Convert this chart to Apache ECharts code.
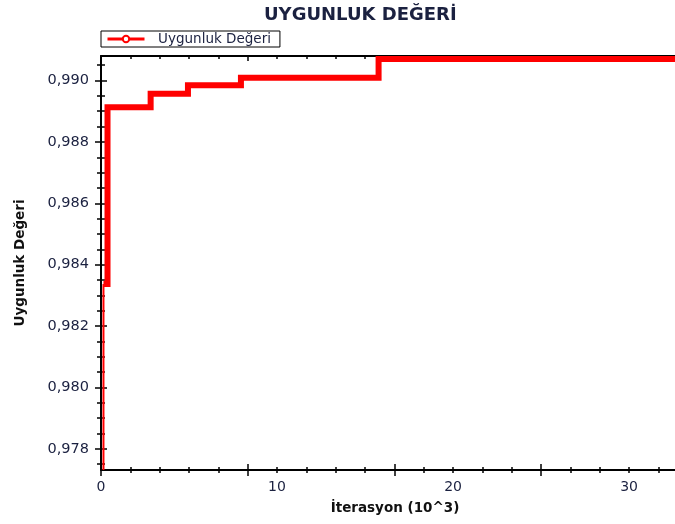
<!DOCTYPE html>
<html>
<head>
<meta charset="utf-8">
<script src="https://cdn.jsdelivr.net/npm/echarts@6/dist/echarts.min.js"></script>
<style>html,body{margin:0;padding:0;background:#fff}#c{width:675px;height:524px}</style>
</head>
<body>
<div id="c"></div>
<script>
// Step change points (iteration x10^3) and fitness values
const stepIterations = [0.14, 0.37, 2.82, 4.94, 7.95, 15.77, 32.61];
const stepValues     = [0.98337, 0.98913, 0.98957, 0.98985, 0.99009, 0.99070, 0.99070];
// Initial thin rise at the very start
const startIterations = [0.14, 0.14];
const startValues     = [0.97731, 0.98337];

const xLabelValues = [0, 10, 20, 30];
const yLabelValues = [0.978, 0.980, 0.982, 0.984, 0.986, 0.988, 0.990];

const X_MIN = 0, X_MAX = 32.61;
const Y_MIN = 0.97731, Y_MAX = 0.99080;

const xMajorTicks = [], xMinorTicks = [];
for (let i = 0; i * 25 / 3 <= X_MAX; i++) xMajorTicks.push(i * 25 / 3);
for (let i = 0; i * 5 / 3 <= X_MAX; i++) if (i % 5) xMinorTicks.push(i * 5 / 3);
const yMajorTicks = yLabelValues.slice();
const yMinorTicks = [];
for (let i = 1; 0.9775 + (i - 1) * 0.0005 <= Y_MAX; i++) {
  const v = +(0.9775 + (i - 1) * 0.0005).toFixed(4);
  if (yMajorTicks.indexOf(v) < 0) yMinorTicks.push(v);
}

const TXT = '#1b2140';
const FONT = 'DejaVu Sans';

function xAx(pos, opts) {
  return Object.assign({
    type: 'value', position: pos, min: X_MIN, max: X_MAX, gridIndex: 0,
    axisLine: { show: false },
    axisLabel: { show: false },
    splitLine: { show: false },
    axisTick: { show: false }
  }, opts);
}
function yAx(opts) {
  return Object.assign({
    type: 'value', position: 'left', min: Y_MIN, max: Y_MAX, gridIndex: 0,
    axisLine: { show: false },
    axisLabel: { show: false },
    splitLine: { show: false },
    axisTick: { show: false }
  }, opts);
}
function tick(values, len, inside) {
  return { show: true, customValues: values, length: len, inside: inside,
           lineStyle: { color: '#000', width: 1.5 } };
}

const chart = echarts.init(document.getElementById('c'), null, { renderer: 'canvas' });
chart.setOption({
  animation: false,
  backgroundColor: '#fff',
  title: {
    text: 'UYGUNLUK DEĞERİ', left: 259, top: 1,
    textStyle: { fontFamily: FONT, fontSize: 18, fontWeight: 'bold', color: TXT }
  },
  legend: {
    data: ['Uygunluk Değeri'],
    left: 101, top: 31,
    padding: [1, 9, 1, 5],
    borderColor: '#000', borderWidth: 1, borderRadius: 0,
    itemWidth: 37, itemHeight: 8,
    lineStyle: { width: 3 },
    formatter: '  {name}',
    textStyle: { fontFamily: FONT, fontSize: 13.5, color: TXT }
  },
  grid: { left: 101, right: 0, top: 56, bottom: 54, containLabel: false },
  xAxis: [
    xAx('bottom', {
      axisLine: { show: true, onZero: false, lineStyle: { color: '#000', width: 2 } },
      axisLabel: { show: true, customValues: xLabelValues, margin: 10,
                   fontFamily: FONT, fontSize: 14, color: TXT },
      axisTick: tick(xMajorTicks, 6, false),
      name: 'İterasyon (10^3)', nameLocation: 'middle', nameGap: 31,
      nameTextStyle: { fontFamily: FONT, fontSize: 13.5, fontWeight: 'bold', color: '#111', padding: [0, 0, 0, 14] }
    }),
    xAx('bottom', { axisTick: tick(xMajorTicks, 6, true) }),
    xAx('bottom', { axisTick: tick(xMinorTicks, 3, false) }),
    xAx('bottom', { axisTick: tick(xMinorTicks, 3, true) }),
    xAx('top', {
      axisLine: { show: true, onZero: false, lineStyle: { color: '#000', width: 2 } },
      axisTick: tick(xMajorTicks, 5, true)
    }),
    xAx('top', { axisTick: tick(xMinorTicks, 3, true) })
  ],
  yAxis: [
    yAx({
      axisLine: { show: true, onZero: false, lineStyle: { color: '#000', width: 2 } },
      axisLabel: { show: true, customValues: yLabelValues, margin: 12,
                   fontFamily: FONT, fontSize: 14.5, color: TXT,
                   formatter: v => v.toFixed(3).replace('.', ',') },
      axisTick: tick(yMajorTicks, 6, false),
      name: 'Uygunluk Değeri', nameLocation: 'middle', nameGap: 74, nameRotate: 90,
      nameTextStyle: { fontFamily: FONT, fontSize: 13.5, fontWeight: 'bold', color: '#111' }
    }),
    yAx({ axisTick: tick(yMajorTicks, 6, true) }),
    yAx({ axisTick: tick(yMinorTicks, 4, false) }),
    yAx({ axisTick: tick(yMinorTicks, 4, true) })
  ],
  series: [
    {
      name: 'Uygunluk Değeri', type: 'line', xAxisIndex: 0, yAxisIndex: 0,
      step: 'end', symbol: 'emptyCircle', symbolSize: 6, showSymbol: false,
      lineStyle: { color: '#ff0000', width: 6, cap: 'butt', join: 'miter' },
      itemStyle: { color: '#ff0000' },
      data: stepIterations.map((x, i) => [x, stepValues[i]]),
      z: 3
    },
    {
      name: 'Başlangıç', type: 'line', xAxisIndex: 0, yAxisIndex: 0,
      symbol: 'none',
      lineStyle: { color: '#ff0000', width: 2 },
      data: startIterations.map((x, i) => [x, startValues[i]]),
      z: 2
    }
  ]
});
</script>
</body>
</html>
